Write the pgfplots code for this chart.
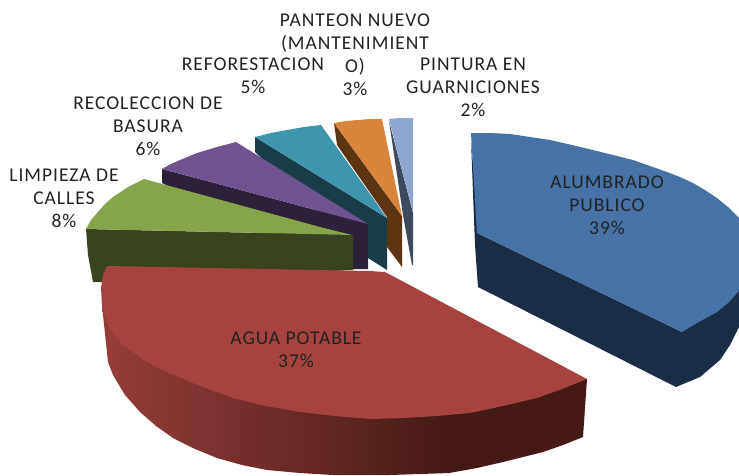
\documentclass[border=0pt]{standalone}
\usepackage{fontspec}
\setmainfont[LetterSpace=5]{Carlito}
\usepackage{pgfplots}
\pgfplotsset{compat=1.18}
\definecolor{bluetop}{HTML}{4672A8}
\definecolor{blueside}{HTML}{1A2D45}
\definecolor{redtop}{HTML}{A64340}
\definecolor{redA}{HTML}{963D3A}
\definecolor{redB}{HTML}{6E2B28}
\definecolor{redC}{HTML}{451A16}
\definecolor{greentop}{HTML}{86A44A}
\definecolor{greenside}{HTML}{3A431F}
\definecolor{purpletop}{HTML}{6F5391}
\definecolor{purpleside}{HTML}{2C2139}
\definecolor{tealtop}{HTML}{3D96AE}
\definecolor{tealside}{HTML}{1A3C47}
\definecolor{orangetop}{HTML}{D9853B}
\definecolor{orangeside}{HTML}{5B3412}
\definecolor{ltbluetop}{HTML}{8FA6D0}
\definecolor{ltblueside}{HTML}{3D4A5E}
\definecolor{labeltext}{HTML}{222222}
\pgfplotsset{face/.style={draw=none,fill=#1,no markers,line join=round}}
\tikzset{lab/.style={align=center,text=labeltext,inner sep=0pt,font=\fontsize{19.5}{23}\selectfont}}
\begin{document}
\begin{tikzpicture}
\begin{axis}[
    name=ax,
    scale only axis,
    width=739pt,height=475pt,
    xmin=0,xmax=739,ymin=0,ymax=475,
    y dir=reverse,
    hide axis,
    clip=true,
]
% alumbrado publico
\addplot[face=blueside] coordinates {(471,140)(475,245)(478,287)(676,387)(700,377)(720,360)(730,345)(739,327)(739,250)(682,332)(479,234)};
\addplot[face=bluetop] coordinates {(471,133)(490,133)(510,134)(530,137)(550,140)(572,145)(593,150)(613,155)(633,160)(650,166)(667,172)(680,177)(693,183)(705,190)(717,198)(728,207)(739,218)(739,291)(728,303)(717,312)(697,323)(682,332)(477,233)};
% pintura
\addplot[face=ltblueside] coordinates {(389,121)(413,213)(413,265)(412,265)(403,215)};
\addplot[face=ltbluetop] coordinates {(389,119)(400,118)(413,118)(413,213)};
% panteon
\addplot[face=orangeside] coordinates {(334,123)(402,216)(402,267)(387,247)(387,217)(337,145)};
\addplot[face=orangetop] coordinates {(334,123)(346,121)(358,120)(370,119)(382,119)(402,216)};
% reforestacion
\addplot[face=tealside] coordinates {(255,137)(387,218)(387,270)(368,258)(255,152)};
\addplot[face=tealtop] coordinates {(255,137)(271,133)(287,130)(304,127)(321,125)(387,218)};
% basura
\addplot[face=purpleside] coordinates {(162,169)(368,224)(368,269)(340,269)(162,183)};
\addplot[face=purpletop] coordinates {(162,169)(171,164)(180,160)(197,153)(217,147)(236,142)(368,224)};
% calles
\addplot[face=greenside] coordinates {(86,229)(88,255)(93,282)(110,282)(353,270)(353,235)};
\addplot[face=greentop] coordinates {(86,229)(91,220)(98,212)(105,204)(113,197)(128,187)(144,179)(320,227)(352,235)};
% agua potable
\addplot[draw=none,left color=redA,right color=redC,middle color=redB,no markers] coordinates {(102,305)(103,315)(108,362)(113,375)(125,395)(140,412)(156,426)(173,438)(195,449)(217,458)(242,465)(267,470)(300,473)(333,475)(390,475)(450,473)(450,410)};
\addplot[face=redC] coordinates {(449,473)(477,468)(503,462)(523,457)(543,452)(563,445)(583,437)(587,379)(449,410)};
\addplot[face=redtop] coordinates {(107,266)(370,271)(385,272)(587,379)(562,389)(537,398)(503,406)(470,413)(437,416)(403,418)(370,419)(335,416)(300,412)(266,406)(233,398)(200,386)(167,372)(147,362)(123,345)(110,330)(102,305)(101,288)(103,275)};
% etiquetas
\node[lab] at (axis cs:607,205) {ALUMBRADO\\PUBLICO\\39\%};
\node[lab] at (axis cs:296,350) {AGUA POTABLE\\37\%};
\node[lab] at (axis cs:64,198) {LIMPIEZA DE\\CALLES\\8\%};
\node[lab] at (axis cs:148,126) {RECOLECCION DE\\BASURA\\6\%};
\node[lab] at (axis cs:253,76) {REFORESTACION\\5\%};
\node[lab] at (axis cs:355,55) {PANTEON NUEVO\\(MANTENIMIENT\\O)\\3\%};
\node[lab] at (axis cs:473,87) {PINTURA EN\\GUARNICIONES\\2\%};
\end{axis}
\path (ax.south west) rectangle (ax.north east);
\end{tikzpicture}
\end{document}
